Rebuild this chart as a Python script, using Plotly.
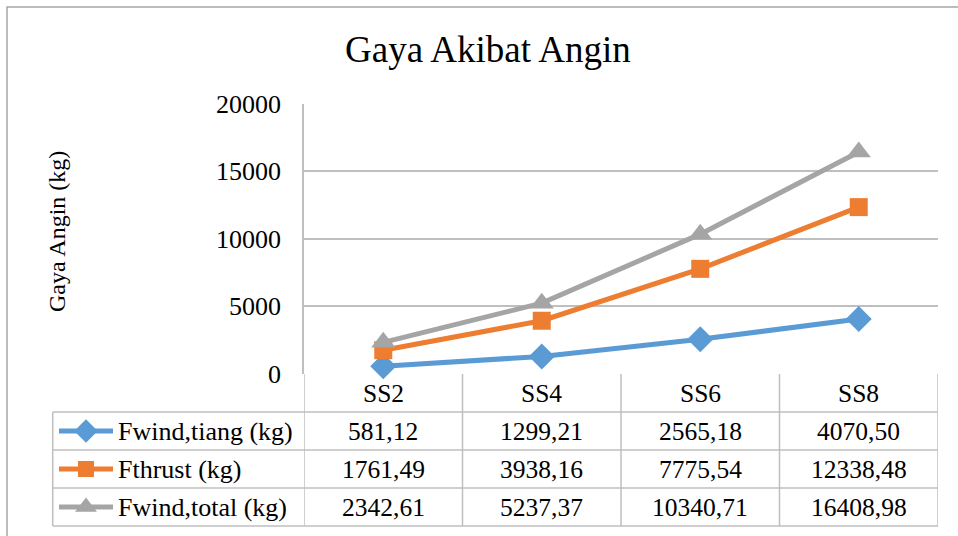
import plotly.graph_objects as go

W, H = 958, 536

categories = ["SS2", "SS4", "SS6", "SS8"]
fwind_tiang = [581.12, 1299.21, 2565.18, 4070.50]
fthrust = [1761.49, 3938.16, 7775.54, 12338.48]
fwind_total = [2342.61, 5237.37, 10340.71, 16408.98]
series_names = ["Fwind,tiang (kg)", "Fthrust (kg)", "Fwind,total (kg)"]
y_ticks = [0, 5000, 10000, 15000, 20000]

series = [fwind_tiang, fthrust, fwind_total]
colors = ["#5B9BD5", "#ED7D31", "#A5A5A5"]
symbols = ["diamond", "square", "triangle-up"]
msizes = [20, 18, 21]

FONT = "Liberation Serif, Times New Roman, serif"
GRID = "#BFBFBF"

# plot-area pixel geometry
PL, PR, PT, PB = 304, 938, 103.5, 374
TAB_LEFT = 52.7
ROW_Y = [374, 412, 450, 488, 526]

def px(x):
    return x / W

def py(y):
    return 1 - y / H

def fmt(v):
    return f"{v:.2f}".replace(".", ",")

fig = go.Figure()

for name, vals, c, s, ms in zip(series_names, series, colors, symbols, msizes):
    fig.add_trace(go.Scatter(
        x=categories, y=vals, name=name, mode="lines+markers",
        line=dict(color=c, width=5),
        marker=dict(symbol=s, size=ms, color=c),
        xaxis="x", yaxis="y", showlegend=False, cliponaxis=False,
    ))

# legend keys inside data table (pixel overlay axes)
for i, (name, c, s, ms) in enumerate(zip(series_names, colors, symbols, msizes)):
    yc = (ROW_Y[i + 1] + ROW_Y[i + 2]) / 2
    fig.add_trace(go.Scatter(
        x=[59, 86, 113], y=[yc, yc, yc], mode="lines",
        line=dict(color=c, width=5), xaxis="x2", yaxis="y2",
        showlegend=False, hoverinfo="skip",
    ))
    fig.add_trace(go.Scatter(
        x=[86], y=[yc], mode="markers",
        marker=dict(symbol=s, size=ms - 2, color=c), xaxis="x2", yaxis="y2",
        showlegend=False, hoverinfo="skip",
    ))

shapes = []
shapes.append(dict(type="rect", xref="paper", yref="paper",
                   x0=px(7), x1=px(W + 10), y0=py(7), y1=py(H + 10),
                   line=dict(color="#A6A6A6", width=1.5)))
for y in ROW_Y[1:]:
    shapes.append(dict(type="line", xref="paper", yref="paper",
                       x0=px(TAB_LEFT), x1=px(PR), y0=py(y), y1=py(y),
                       line=dict(color=GRID, width=1.5)))
shapes.append(dict(type="line", xref="paper", yref="paper",
                   x0=px(TAB_LEFT), x1=px(TAB_LEFT), y0=py(ROW_Y[1]), y1=py(ROW_Y[-1]),
                   line=dict(color=GRID, width=1.5)))
for k in range(len(categories) + 1):
    shapes.append(dict(type="line", xref="x", yref="paper",
                       x0=k - 0.5, x1=k - 0.5, y0=py(ROW_Y[0]), y1=py(ROW_Y[-1]),
                       line=dict(color=GRID, width=1.5)))

annotations = []
def ann(text, x, y, xref="paper", size=25, **kw):
    d = dict(text=text, xref=xref, yref="paper", x=x, y=y, showarrow=False,
             xanchor=kw.pop("xanchor", "center"), yanchor="middle",
             font=dict(family=FONT, size=size, color="#000000"))
    d.update(kw)
    annotations.append(d)

ann("Gaya Akibat Angin", px(488), py(50), size=37)
ann("Gaya Angin (kg)", px(57), py(232), size=24, textangle=-90)
for k, cat in enumerate(categories):
    ann(cat, k, py((ROW_Y[0] + ROW_Y[1]) / 2), xref="x", size=25.5)
for i, (name, vals) in enumerate(zip(series_names, series)):
    yc = (ROW_Y[i + 1] + ROW_Y[i + 2]) / 2
    ann(name, px(116), py(yc), xanchor="left", size=26)
    for k, v in enumerate(vals):
        ann(fmt(v), k, py(yc), xref="x", size=25.5)

fig.update_layout(
    template="none",
    width=W, height=H,
    margin=dict(l=0, r=0, t=0, b=0, pad=0, autoexpand=False),
    paper_bgcolor="white", plot_bgcolor="rgba(0,0,0,0)",
    xaxis=dict(domain=[px(PL), px(PR)], type="category",
               range=[-0.5, len(categories) - 0.5], automargin=False,
               showticklabels=False, showgrid=False, zeroline=False,
               showline=False, ticks=""),
    yaxis=dict(domain=[py(PB), py(PT)], range=[0, 20000], automargin=False,
               tickvals=y_ticks, ticktext=[str(t) for t in y_ticks],
               showgrid=True, gridcolor=GRID, gridwidth=1.5,
               zeroline=False, showline=True, linecolor=GRID, linewidth=1.5,
               ticks="", ticklabelstandoff=16,
               tickfont=dict(family=FONT, size=26, color="#000000")),
    xaxis2=dict(domain=[0, 1], range=[0, W], visible=False, anchor="y2",
                automargin=False),
    yaxis2=dict(domain=[0, 1], range=[H, 0], visible=False, anchor="x2",
                automargin=False),
    shapes=shapes,
    annotations=annotations,
)

fig.write_html(
    "out.html",
    config={"displayModeBar": False},
    post_script="document.body.style.margin='0';document.body.style.overflow='hidden';",
)
